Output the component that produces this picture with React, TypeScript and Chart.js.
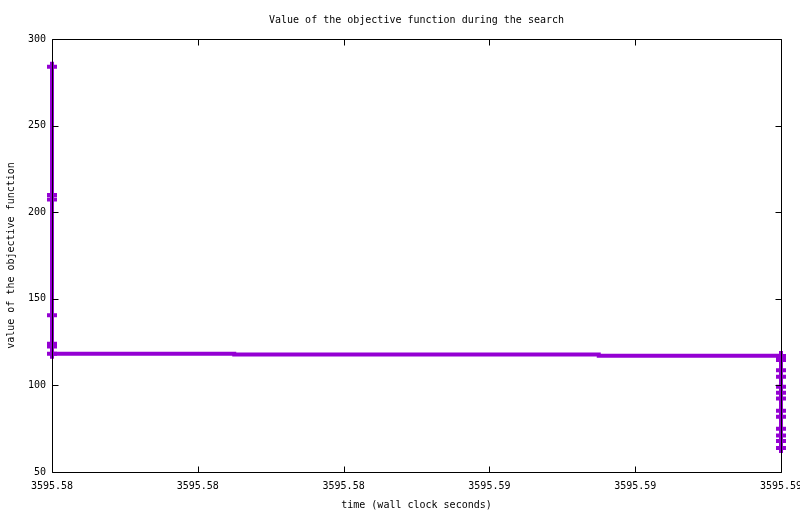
import { useRef, useEffect } from 'react';
import Chart from 'chart.js/auto';

// search log: wall clock time (s) and objective value at that moment
const TIME_MIN = 3595.58;
const TIME_MAX = 3595.59;
const searchTimes = [
    3595.58, 3595.58, 3595.58, 3595.58, 3595.58, 3595.58, 3595.58,
    3595.5825, 3595.5875,
    3595.59, 3595.59, 3595.59, 3595.59, 3595.59, 3595.59, 3595.59,
    3595.59, 3595.59, 3595.59, 3595.59, 3595.59, 3595.59,
];
const objectiveValues = [
    284, 210, 207.4, 140.5, 124, 122.4, 118.3,
    117.9, 117.1,
    117.0, 114.7, 108.8, 105, 99.2, 95.7, 92.5,
    85.4, 81.9, 75, 71.1, 67.9, 63.9,
];

const MONO = "'DejaVu Sans Mono', 'Liberation Mono', monospace";

// gnuplot-like frame with inward ticks, mirrored on top and right
const framePlugin = {
    id: 'frame',
    afterDatasetsDraw(chart: any) {
        const { ctx, chartArea, scales } = chart;
        const l = Math.round(chartArea.left) + 0.5;
        const r = Math.round(chartArea.right) + 0.5;
        const t = Math.round(chartArea.top) + 0.5;
        const b = Math.round(chartArea.bottom) + 0.5;
        ctx.save();
        ctx.strokeStyle = '#000';
        ctx.lineWidth = 1;
        ctx.beginPath();
        ctx.rect(l, t, r - l, b - t);
        scales.x.ticks.forEach((tick: any) => {
            const px = Math.round(scales.x.getPixelForValue(tick.value)) + 0.5;
            ctx.moveTo(px, b);
            ctx.lineTo(px, b - 6);
            ctx.moveTo(px, t);
            ctx.lineTo(px, t + 6);
        });
        scales.y.ticks.forEach((tick: any) => {
            const py = Math.round(scales.y.getPixelForValue(tick.value)) + 0.5;
            ctx.moveTo(l, py);
            ctx.lineTo(l + 6, py);
            ctx.moveTo(r, py);
            ctx.lineTo(r - 6, py);
        });
        ctx.stroke();
        ctx.restore();
    },
};

export default function App() {
    const chartRef = useRef<HTMLCanvasElement>(null);

    useEffect(() => {
        document.body.style.margin = '0';
        if (!chartRef.current) return;

        const chart = new Chart(chartRef.current, {
            type: 'line',
            data: {
                datasets: [{
                    label: 'objective',
                    data: searchTimes.map((t, i) => ({ x: t, y: objectiveValues[i] })),
                    borderColor: '#9400D3',
                    backgroundColor: '#9400D3',
                    borderWidth: 4,
                    stepped: 'before',
                    fill: false,
                    clip: false,
                    pointStyle: 'cross',
                    pointBorderColor: '#9400D3',
                    pointBorderWidth: 4,
                    pointRadius: (c: any) => {
                        const t = searchTimes[c.dataIndex];
                        return t === TIME_MIN || t === TIME_MAX ? 5 : 0;
                    },
                }],
            },
            plugins: [framePlugin],
            options: {
                animation: false,
                responsive: true,
                maintainAspectRatio: false,
                layout: { padding: { left: 0, right: 19, top: 0, bottom: 0 } },
                plugins: {
                    legend: { display: false },
                    tooltip: { enabled: false },
                    title: {
                        display: true,
                        text: 'Value of the objective function during the search',
                        fullSize: false,
                        color: '#000',
                        font: { family: MONO, size: 10, weight: 'normal' },
                        padding: { top: 14, bottom: 13 },
                    },
                },
                scales: {
                    x: {
                        type: 'linear',
                        min: TIME_MIN,
                        max: TIME_MAX,
                        grid: { display: false, drawTicks: false, tickLength: 0 },
                        border: { display: false },
                        ticks: {
                            stepSize: 0.002,
                            color: '#000',
                            font: { family: MONO, size: 10 },
                            padding: 8,
                            maxRotation: 0,
                            autoSkip: false,
                            callback: (v: any) => Number(v).toFixed(2),
                        },
                        title: {
                            display: true,
                            text: 'time (wall clock seconds)',
                            color: '#000',
                            font: { family: MONO, size: 10 },
                            padding: { top: 0, bottom: 3 },
                        },
                        afterFit: (s: any) => {
                            s.height = 42;
                            s.paddingLeft = 0;
                            s.paddingRight = 0;
                        },
                    },
                    y: {
                        type: 'linear',
                        min: 50,
                        max: 300,
                        grid: { display: false, drawTicks: false, tickLength: 0 },
                        border: { display: false },
                        ticks: {
                            stepSize: 50,
                            color: '#000',
                            font: { family: MONO, size: 10 },
                            padding: 6,
                        },
                        title: {
                            display: true,
                            text: 'value of the objective function',
                            color: '#000',
                            font: { family: MONO, size: 10 },
                            padding: { top: 5, bottom: 0 },
                        },
                        afterFit: (s: any) => {
                            s.width = 52;
                            s.paddingTop = 0;
                            s.paddingBottom = 0;
                        },
                    },
                },
            },
        } as any);

        return () => {
            chart.destroy();
        };
    }, []);

    return (
        <div style={{ width: 800, height: 514, background: '#fff' }}>
            <canvas ref={chartRef}></canvas>
        </div>
    );
}
